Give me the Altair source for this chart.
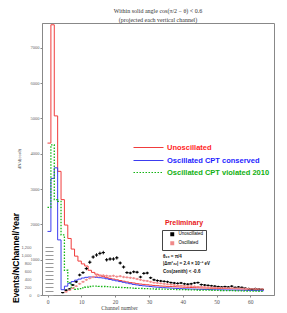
import altair as alt
import pandas as pd

# ---------------- data ----------------
bins = list(range(64))  # channel bins [k, k+1]
red_vals = [4300, 7650, 5070, 3500, 2700, 1980, 1600, 1300, 1100, 960,
            880, 820, 700, 640, 590, 560, 520, 490, 470, 450,
            430, 410, 390, 370, 350, 340, 320, 310, 300, 290,
            280, 270, 265, 255, 250, 245, 240, 235, 230, 225,
            220, 215, 212, 208, 205, 200, 198, 195, 192, 190,
            187, 185, 182, 180, 177, 175, 172, 170, 167, 165,
            162, 160, 157, 155]
blue_vals = [1800, 3300, 3600, 1560, 150, 250, 330, 380, 420, 450,
             480, 500, 510, 510, 500, 490, 480, 460, 440, 420,
             400, 380, 360, 340, 320, 300, 285, 270, 260, 250,
             240, 230, 222, 215, 208, 202, 196, 190, 185, 180,
             176, 172, 168, 165, 162, 160, 157, 155, 152, 150,
             148, 146, 144, 142, 140, 138, 136, 134, 132, 130,
             128, 126, 124, 122]
green_vals = [2480, 4250, 2700, 2650, 1700, 700, 350, 200, 160, 180,
              200, 220, 240, 250, 250, 245, 240, 235, 230, 225,
              220, 215, 210, 205, 200, 195, 190, 186, 182, 178,
              175, 172, 170, 168, 165, 162, 160, 158, 155, 152,
              150, 148, 146, 144, 142, 140, 138, 136, 134, 132,
              130, 128, 126, 124, 122, 120, 118, 116, 114, 112,
              110, 108, 106, 104]

black_ch = list(range(4, 64))
black_vals = [60, 120, 150, 250, 330, 500, 560, 660, 820, 950,
              1000, 1040, 1060, 880, 900, 900, 930, 800, 700, 560,
              550, 580, 570, 450, 540, 550, 430, 380, 360, 350,
              340, 330, 310, 300, 290, 300, 280, 270, 280, 300,
              310, 260, 250, 240, 230, 220, 210, 200, 210, 200,
              220, 190, 200, 190, 170, 160, 150, 160, 150, 140]
black_err = [15, 20, 20, 25, 30, 35, 35, 40, 45, 45,
             45, 45, 45, 45, 45, 45, 45, 40, 40, 35,
             35, 35, 35, 32, 35, 35, 30, 30, 30, 28,
             28, 28, 27, 27, 26, 27, 26, 25, 26, 27,
             27, 25, 25, 24, 24, 23, 23, 22, 23, 22,
             23, 21, 22, 21, 20, 20, 19, 20, 19, 18]
pink_ch = list(range(5, 64))
pink_vals = [80, 120, 170, 220, 280, 330, 380, 420, 450, 470,
             480, 490, 480, 470, 480, 460, 470, 450, 440, 430,
             420, 400, 380, 360, 350, 330, 310, 300, 290, 280,
             270, 260, 250, 240, 235, 230, 225, 220, 215, 210,
             205, 200, 195, 190, 188, 185, 180, 178, 175, 172,
             170, 168, 165, 162, 160, 158, 155, 152, 150]
pink_err = [15, 18, 20, 22, 25, 27, 28, 30, 30, 30,
            30, 30, 30, 30, 30, 30, 30, 30, 29, 29,
            28, 28, 27, 27, 26, 26, 25, 24, 24, 24,
            23, 23, 22, 22, 22, 21, 21, 21, 21, 20,
            20, 20, 20, 19, 19, 19, 19, 19, 18, 18,
            18, 18, 18, 18, 17, 17, 17, 17, 17]

series_names = ["Unoscillated", "Oscillated  CPT conserved", "Oscillated  CPT violated 2010"]
series_colors = ["#f03c3c", "#3c3cf0", "#14b414"]
label_colors = ["#ff1e1e", "#1e1eff", "#10b010"]
point_names = ["Unoscillated", "Oscillated"]
point_colors = ["#000000", "#f08a8a"]
main_y_ticks = [0, 1000, 2000, 3000, 4000, 5000, 6000, 7000]
inset_y_ticks = list(range(0, 1201, 100))
x_ticks = [0, 10, 20, 30, 40, 50, 60]
notes = ["No Reconstruction", "θ₂₃ = π/4", "|Δm²₃₂| = 2.4 × 10⁻³ eV", "Cos(zenith) < -0.6"]

# ---------------- tables ----------------
def step_table(vals, name):
    xs = bins + [bins[-1] + 1]
    ys = vals + [vals[-1]]
    return pd.DataFrame({"ch": xs, "v": ys, "series": name})

pts = pd.concat([
    pd.DataFrame({"ch": black_ch, "v": black_vals, "e": black_err, "kind": point_names[0]}),
    pd.DataFrame({"ch": pink_ch, "v": pink_vals, "e": pink_err, "kind": point_names[1]}),
])
pts["x0"] = pts["ch"]
pts["x1"] = pts["ch"] + 1
pts["xc"] = pts["ch"] + 0.5
pts["lo"] = pts["v"] - pts["e"]
pts["hi"] = pts["v"] + pts["e"]

W, H = 232, 272
xscale = alt.Scale(domain=[-1.63, 67.0], nice=False, zero=False)
yscale = alt.Scale(domain=[0, 7700], nice=False)
iscale = alt.Scale(domain=[0, 1200], range=[H, H - 48], nice=False)

x_axis = alt.Axis(values=x_ticks, title="Channel number", labelFontSize=5.5, labelColor="#555",
                  tickSize=2, tickColor="#888", domainColor="#888", grid=False, labelPadding=2,
                  titleFontSize=5.5, titleFontWeight="normal", titleColor="#444", titlePadding=1,
                  titleX=77, labelFont="Liberation Serif", titleFont="Liberation Serif")
y_axis = alt.Axis(values=main_y_ticks, format="d", title=None, labelFontSize=4.5, labelColor="#666",
                  tickSize=2, tickColor="#888", domainColor="#888", grid=False, labelPadding=1,
                  labelFont="Liberation Serif")

legend_ys = [109, 122, 134]
dashes = [None, None, [1.5, 1.5]]
step_layers = []
for i, (vals, name) in enumerate(zip([red_vals, blue_vals, green_vals], series_names)):
    leg = dict(orient="none", legendX=91, legendY=legend_ys[i], title=None, symbolType="stroke",
               symbolSize=900, symbolStrokeWidth=1, labelFont="Liberation Sans",
               labelFontWeight="bold", labelFontSize=7.5, labelColor=label_colors[i],
               labelOffset=3, padding=0)
    mk = dict(interpolate="step-after", strokeWidth=1)
    if dashes[i]:
        leg["symbolDash"] = dashes[i]
        mk["strokeDash"] = dashes[i]
        mk["strokeWidth"] = 1.3
    ch = alt.Chart(step_table(vals, name)).mark_line(**mk).encode(
        x=alt.X("ch:Q", scale=xscale, axis=x_axis),
        y=alt.Y("v:Q", scale=yscale, axis=y_axis),
        color=alt.Color("series:N", scale=alt.Scale(domain=[name], range=[series_colors[i]]),
                        legend=alt.Legend(**leg)),
    )
    step_layers.append(ch)

main = alt.layer(*step_layers).resolve_scale(color="independent")

pt_color = alt.Color("kind:N", scale=alt.Scale(domain=point_names, range=point_colors),
                     legend=alt.Legend(orient="none", legendX=120, legendY=207, title=None,
                                       strokeColor="#444", fillColor="white", padding=2,
                                       labelFontSize=4.5, labelFont="Liberation Sans",
                                       symbolType="square", symbolSize=6, rowPadding=0,
                                       labelOffset=4, symbolOffset=6,
                                       labelExpr="datum.label + '\u00a0\u00a0\u00a0\u00a0\u00a0\u00a0\u00a0\u00a0\u00a0\u00a0\u00a0\u00a0\u00a0\u00a0'"))
inset_axis = alt.Axis(orient="left", offset=-11, values=inset_y_ticks,
                      labelExpr="datum.value % 200 == 0 ? datum.label : ''",
                      tickSize=8, labelPadding=14, labelFontSize=4, labelColor="#666",
                      tickColor="#999", domain=False, grid=False, title=None)
hbar = alt.Chart(pts).mark_rule(strokeWidth=1).encode(
    x=alt.X("x0:Q", scale=xscale, axis=x_axis), x2="x1:Q",
    y=alt.Y("v:Q", scale=iscale, axis=inset_axis), color=pt_color)
vbar = alt.Chart(pts).mark_rule(strokeWidth=0.9).encode(
    x=alt.X("xc:Q", scale=xscale, axis=x_axis),
    y=alt.Y("lo:Q", scale=iscale, axis=inset_axis), y2="hi:Q", color=pt_color)
dots = alt.Chart(pts).mark_point(shape="square", filled=True, size=2, opacity=1).encode(
    x=alt.X("xc:Q", scale=xscale, axis=x_axis),
    y=alt.Y("v:Q", scale=iscale, axis=inset_axis), color=pt_color)
inset = alt.layer(hbar, vbar, dots)

txt_df = pd.DataFrame({"t": ["Preliminary"]})
prelim = alt.Chart(txt_df).mark_text(font="Liberation Sans", fontWeight="bold", fontSize=7,
                                     color="#e82020", align="center").encode(
    text="t:N", x=alt.value(142), y=alt.value(200))
note_layers = []
for j, n in enumerate(notes):
    note_layers.append(alt.Chart(pd.DataFrame({"t": [n]})).mark_text(
        font="Liberation Sans", fontWeight="bold", fontSize=4.5, color="#111", align="left").encode(
        text="t:N", x=alt.value(121), y=alt.value([227, 234, 241, 249][j])))
ytitle = alt.Chart(pd.DataFrame({"t": ["Events/NChannel/Year"]})).mark_text(
    font="Liberation Sans", fontWeight="bold", fontSize=8.5, color="#000", angle=270).encode(
    text="t:N", x=alt.value(-26), y=alt.value(235))
dtitle = alt.Chart(pd.DataFrame({"t": ["dN/d(cosθ)"]})).mark_text(
    font="Liberation Serif", fontSize=4.5, color="#444", angle=270).encode(
    text="t:N", x=alt.value(-22), y=alt.value(136))

chart = alt.layer(main, inset, prelim, *note_layers, ytitle, dtitle).resolve_scale(
    y="independent", color="independent"
).properties(
    width=W, height=H,
    title=alt.TitleParams(["Within solid angle cos(π/2 − θ) < 0.6", "(projected each vertical channel)"],
                          font="Liberation Serif", fontSize=6, fontWeight="normal", color="#333",
                          offset=0, lineHeight=9, anchor="middle"),
    autosize=alt.AutoSizeParams(type="none"),
    padding={"left": 34, "top": 15, "right": 5, "bottom": 18},
).configure_view(stroke="#888", strokeWidth=1)

chart.save("out.html", embed_options={"renderer": "svg", "actions": False})
